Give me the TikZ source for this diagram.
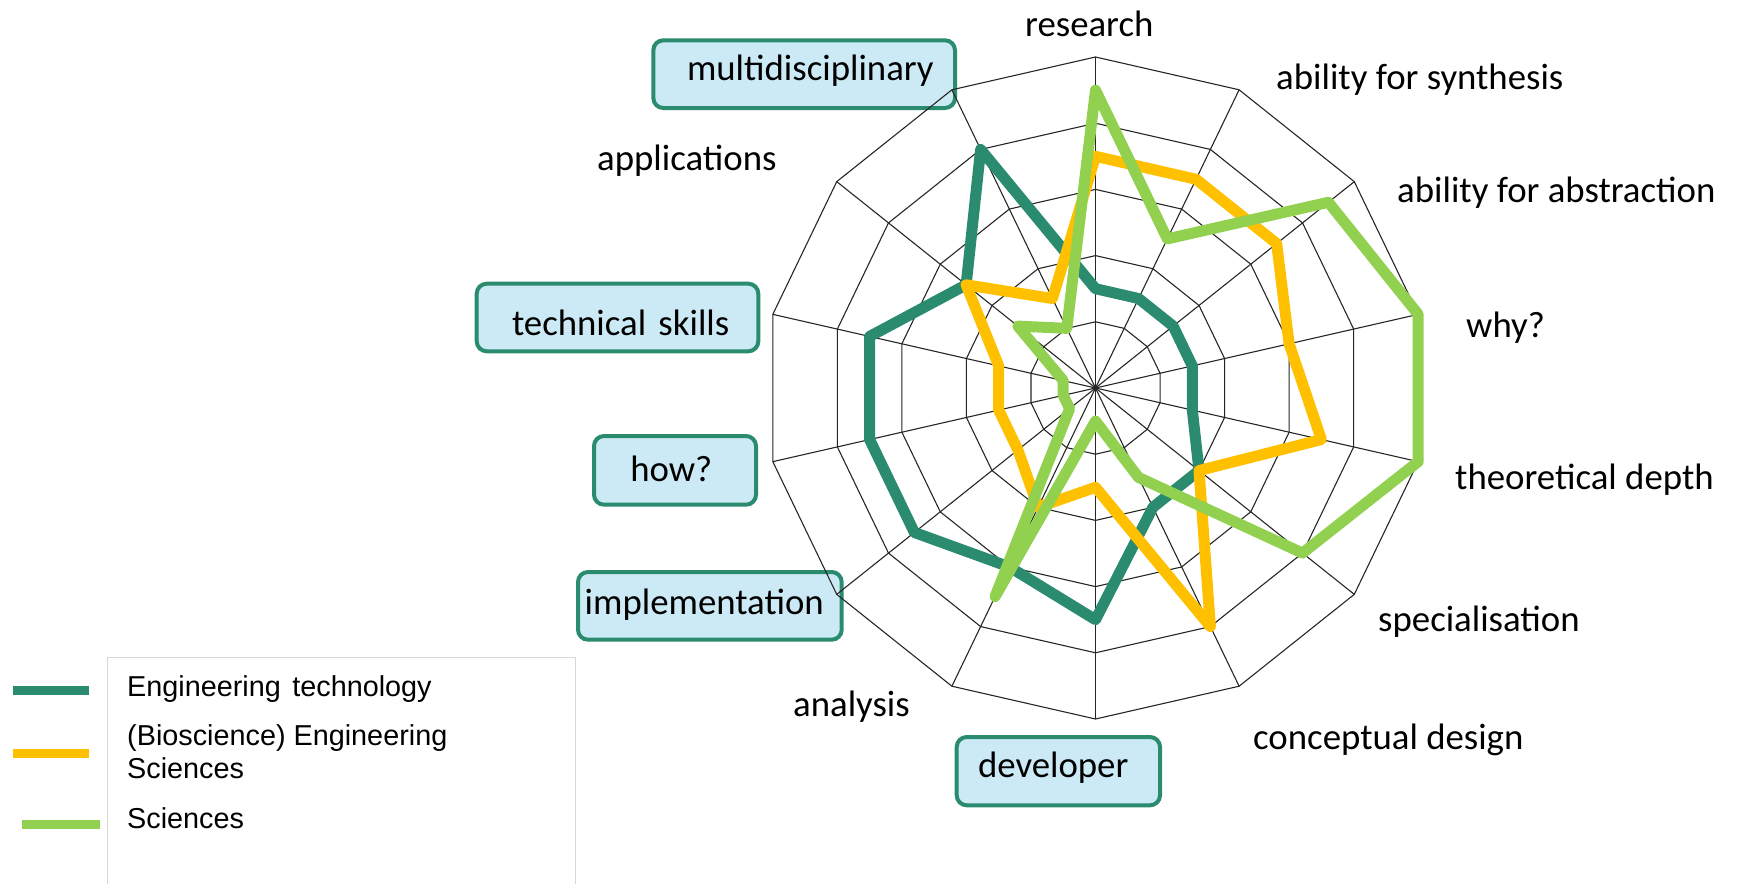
\documentclass[tikz,border=0pt]{standalone}
\usepackage{fontspec}
\setmainfont{Carlito}
\newfontfamily\legfont{Liberation Sans}
\definecolor{dkgreen}{RGB}{42,139,110}
\definecolor{orng}{RGB}{255,192,0}
\definecolor{ltgreen}{RGB}{146,208,80}
\definecolor{boxfill}{RGB}{204,234,245}
\definecolor{legframe}{RGB}{215,215,215}
\begin{document}
\begin{tikzpicture}[x=1pt,y=-1pt,
  gridline/.style={line width=1.1pt, black!85},
  series/.style={line width=11pt, line join=round, line cap=round},
  axlabel/.style={font=\fontsize{36.8}{44}\selectfont, inner sep=0pt, anchor=base west},
  tagbox/.style={draw=dkgreen, line width=4pt, fill=boxfill, rounded corners=10pt,
    font=\fontsize{36.8}{44}\selectfont, inner ysep=0pt, inner xsep=0pt, align=left, anchor=base west},
  legtext/.style={font=\legfont\fontsize{28.8}{31}\selectfont, inner sep=0pt, anchor=base west},
  legline/.style={line width=9pt}
]
\useasboundingbox (0,0) rectangle (1739,883);

% highlighted label boxes
\node[tagbox, text width=301.7pt, text height=40.6pt, text depth=27.1pt] (multi) at (651.3,80.9) {\hspace*{33.7pt}multidisciplinary};
\node[tagbox, text width=281.6pt, text height=51.5pt, text depth=16.1pt] (tech) at (474.7,335.2) {\hspace*{35.3pt}technical skills};
\node[tagbox, text width=162pt, text height=45.8pt, text depth=22.9pt] (how) at (592,481.8) {\hspace*{36.3pt}how?};
\node[tagbox, text width=263.7pt, text height=42.2pt, text depth=25.5pt] (impl) at (576,614.2) {\hspace*{6.7pt}implementation};
\node[tagbox, text width=203.3pt, text height=40.5pt, text depth=27.8pt] (dev) at (954.7,777.5) {\hspace*{21.3pt}developer};

% radar grid and series
\begin{scope}[shift={(1095.5,388)}]
  \coordinate (ctr) at (0,0);
  \foreach \r in {1,...,5}
    \draw[gridline] (-90:\r*66.2) \foreach \k in {1,...,13}{ -- (-90+\k*360/14:\r*66.2)} -- cycle;
  \foreach \k in {0,...,13}
    \draw[gridline] (ctr) -- (-90+\k*360/14:331) coordinate (ax\k);

  \draw[series, dkgreen] (-90:1.5*66.2)
    \foreach \v [count=\k] in {1.5,1.5,1.5,1.5,2,2,3.5,3,3.5,3.5,3.5,2.5,4}{ -- (-90+\k*360/14:\v*66.2)} -- cycle;
  \draw[series, orng] (-90:3.5*66.2)
    \foreach \v [count=\k] in {3.5,3.5,3,3.5,2,4,1.5,2,1.5,1.5,1.5,2.5,1.5}{ -- (-90+\k*360/14:\v*66.2)} -- cycle;
  \draw[series, ltgreen] (-90:4.5*66.2)
    \foreach \v [count=\k] in {2.5,4.5,5,5,4,1.5,0.5,3.5,0.5,0.5,0.5,1.5,1}{ -- (-90+\k*360/14:\v*66.2)} -- cycle;
\end{scope}

% axis labels
\node[axlabel] (lres) at (1025,36.5) {research};
\node[axlabel] (lsyn) at (1276,89.5) {ability for synthesis};
\node[axlabel] (labs) at (1397,202) {ability for abstraction};
\node[axlabel] (lwhy) at (1466,337.5) {why?};
\node[axlabel] (lthe) at (1455,489.5) {theoretical depth};
\node[axlabel] (lspe) at (1378,631.5) {specialisation};
\node[axlabel] (lcon) at (1253,749) {conceptual design};
\node[axlabel] (lana) at (793,716) {analysis};
\node[axlabel] (lapp) at (597,170.5) {applications};

% legend
\draw[legframe, line width=1pt] (107,900) -- (107,657) -- (575,657) -- (575,900);
\coordinate (la1) at (13,690);  \coordinate (lb1) at (89,690);
\coordinate (la2) at (13,753);  \coordinate (lb2) at (89,753);
\coordinate (la3) at (22,824);  \coordinate (lb3) at (100,824);
\draw[legline, dkgreen] (la1) -- (lb1);
\draw[legline, orng] (la2) -- (lb2);
\draw[legline, ltgreen] (la3) -- (lb3);
\node[legtext] (lt1) at (127,696) {Engineering\hspace{0.4em}technology};
\node[legtext] (lt2) at (127,745) {(Bioscience) Engineering};
\node[legtext] (lt2b) at (127,778) {Sciences};
\node[legtext] (lt3) at (127,828) {Sciences};
\end{tikzpicture}
\end{document}
